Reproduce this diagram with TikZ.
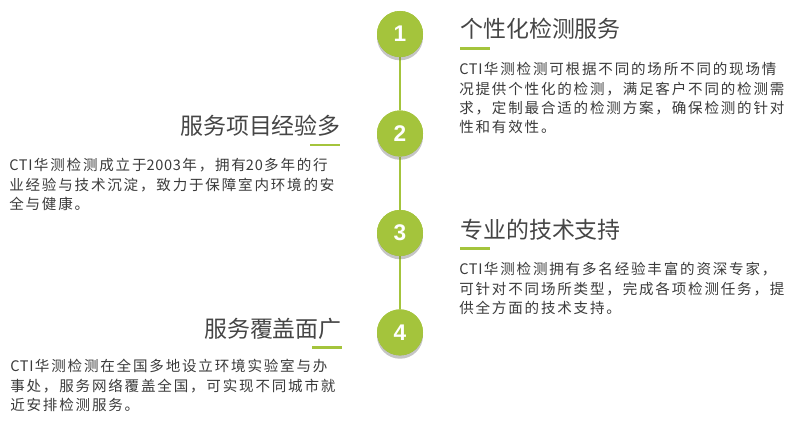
\documentclass[tikz,border=0pt]{standalone}
\usepackage{fontspec}
\setmainfont{Liberation Sans}
\newfontfamily\cjk{Noto Sans CJK SC}
\newfontfamily\cjkbody[LetterSpace=12.5]{Noto Sans CJK SC}
\newfontfamily\cjklat[LetterSpace=5]{Noto Sans CJK SC}
\newcommand{\lat}[1]{{\cjklat #1}\kern1pt}
\usetikzlibrary{shadows,positioning}
\definecolor{leaf}{HTML}{A4C43C}
\definecolor{ink}{HTML}{454545}
\definecolor{txt}{HTML}{3A3A3A}
\tikzset{
num/.style = {circle, fill=leaf, minimum size=34.5pt, inner sep=0pt, text=white,
  font=\fontsize{17pt}{17pt}\selectfont\bfseries,
  drop shadow={shadow xshift=0pt, shadow yshift=-2.5pt, opacity=0.12, fill=black}},
title/.style = {inner sep=0pt, text=ink, font=\cjk\fontsize{17.2pt}{20pt}\selectfont},
body/.style = {inner sep=0pt, align=left, text=txt, font=\cjkbody\fontsize{10.9pt}{14.6pt}\selectfont},
bar/.style = {draw=leaf, line width=2.2pt},
spine/.style = {draw=leaf, line width=2.2pt}
}
\begin{document}
\begin{tikzpicture}[x=0.75pt, y=-0.75pt, node distance=74.6pt]
    \useasboundingbox (0,0) rectangle (800,423);
    \node [num] (c1) at (400,34) {};
    \node [num, below of=c1] (c2) {};
    \node [num, below of=c2] (c3) {};
    \node [num, below of=c3] (c4) {};
    \draw [spine] (c1) -- (c2);
    \draw [spine] (c2) -- (c3);
    \draw [spine] (c3) -- (c4);
    \node [num] at (c1) {1};
    \node [num] at (c2) {2};
    \node [num] at (c3) {3};
    \node [num] at (c4) {4};
    % item 1 (body nodes sit on the baseline of their last line)
    \node [title, anchor=base west] (t1) at (460,38) {个性化检测服务};
    \coordinate (u1) at (460,48.3);
    \coordinate (v1) at (490,48.3);
    \draw [bar] (u1) -- (v1);
    \node [body, anchor=base west] (b1) at (459,133)
      {\lat{CTI}华测检测可根据不同的场所不同的现场情\\况提供个性化的检测，满足客户不同的检测需\\求，定制最合适的检测方案，确保检测的针对\\性和有效性。};
    % item 2
    \node [title, anchor=base east] (t2) at (341,134.7) {服务项目经验多};
    \coordinate (u2) at (310,145);
    \coordinate (v2) at (340,145);
    \draw [bar] (u2) -- (v2);
    \node [body, anchor=base west] (b2) at (9,209.5)
      {\lat{CTI}华测检测成立于\lat{2003}年，拥有\lat{20}多年的行\\业经验与技术沉淀，致力于保障室内环境的安\\全与健康。};
    % item 3
    \node [title, anchor=base west] (t3) at (460,239) {专业的技术支持};
    \coordinate (u3) at (460,248.3);
    \coordinate (v3) at (490,248.3);
    \draw [bar] (u3) -- (v3);
    \node [body, anchor=base west] (b3) at (459,313.5)
      {\lat{CTI}华测检测拥有多名经验丰富的资深专家，\\可针对不同场所类型，完成各项检测任务，提\\供全方面的技术支持。};
    % item 4
    \node [title, anchor=base east] (t4) at (342,338) {服务覆盖面广};
    \coordinate (u4) at (312,347.3);
    \coordinate (v4) at (342,347.3);
    \draw [bar] (u4) -- (v4);
    \node [body, anchor=base west] (b4) at (10,410.5)
      {\lat{CTI}华测检测在全国多地设立环境实验室与办\\事处，服务网络覆盖全国，可实现不同城市就\\近安排检测服务。};
\end{tikzpicture}
\end{document}
